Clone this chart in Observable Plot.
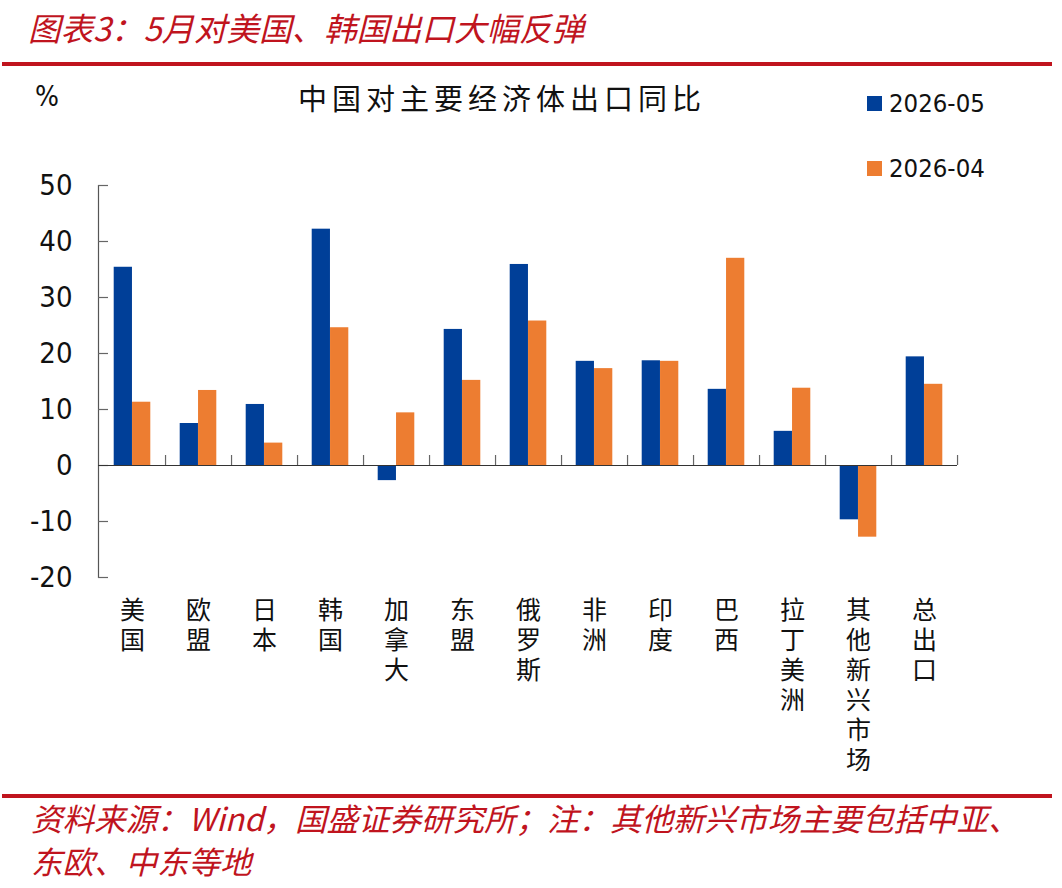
<!DOCTYPE html>
<html>
<head>
<meta charset="utf-8">
<script src="https://cdn.jsdelivr.net/npm/d3@7"></script>
<script src="https://cdn.jsdelivr.net/npm/@observablehq/plot@0.6"></script>
<style>
  body { margin: 0; background: #fff; }
  #page { position: relative; width: 1062px; height: 888px; overflow: hidden; background: #fff;
          font-family: "Noto Sans CJK SC", sans-serif; }
  .red { color: #C0141E; font-style: italic; }
  #title { position: absolute; left: 28px; top: 5px; font-size: 32.5px; line-height: 44px; white-space: nowrap; }
  .bar { position: absolute; left: 2px; width: 1050px; height: 4px; background: #C0141E; }
  #subtitle { position: absolute; left: 298px; top: 78px; font-size: 29px; line-height: 38px; letter-spacing: 5px;
              color: #111; white-space: nowrap; }
  #unit { position: absolute; left: 35px; top: 80px; font-size: 28px; line-height: 34px; color: #111;
          font-family: "DejaVu Sans Condensed", "DejaVu Sans", sans-serif; }
  .legend { position: absolute; left: 867px; font-size: 25.5px; line-height: 30px; color: #111;
            font-family: "DejaVu Sans Condensed", "DejaVu Sans", sans-serif; white-space: nowrap; }
  .legend i { display: inline-block; width: 15px; height: 15px; margin-right: 7px; vertical-align: 1px; }
  #chart { position: absolute; left: 0; top: 66px; }
  #source { position: absolute; left: 31px; top: 796px; font-size: 31.5px; line-height: 43px; white-space: nowrap; }
</style>
</head>
<body>
<div id="page">
  <div id="title" class="red">图表3：5月对美国、韩国出口大幅反弹</div>
  <div class="bar" style="top:62px"></div>
  <div id="subtitle">中国对主要经济体出口同比</div>
  <div id="unit">%</div>
  <div id="legend"></div>
  <div id="chart"></div>
  <div class="bar" style="top:794px"></div>
  <div id="source" class="red">资料来源：Wind，国盛证券研究所；注：其他新兴市场主要包括中亚、<br>东欧、中东等地</div>
</div>
<script>
// Economies, left to right
const categories = ["美国", "欧盟", "日本", "韩国", "加拿大", "东盟", "俄罗斯", "非洲", "印度", "巴西", "拉丁美洲", "其他新兴市场", "总出口"];
// Year-on-year export growth, %
const may2026 = [35.4, 7.5, 10.9, 42.2, -2.7, 24.3, 35.9, 18.6, 18.7, 13.6, 6.1, -9.7, 19.4];
const apr2026 = [11.3, 13.4, 4.0, 24.6, 9.4, 15.2, 25.8, 17.3, 18.6, 37.0, 13.8, -12.8, 14.5];
const seriesNames = ["2026-05", "2026-04"];
const yTicks = [-20, -10, 0, 10, 20, 30, 40, 50];

const BLUE = "#003F98";
const ORANGE = "#ED7D31";
const colors = [BLUE, ORANGE];

const rows = categories.map((c, i) => ({cat: c, may: may2026[i], apr: apr2026[i]}));

const W = 1062, H = 728;
const mL = 98, mR = 105, mT = 119, mB = 217;
const step = (W - mL - mR) / categories.length;
const half = step / 2;
const gap = step * 0.2225;

const axisFont = "'DejaVu Sans Condensed', 'DejaVu Sans', sans-serif";
const cjkFont = "'Noto Sans CJK SC', sans-serif";

const chart = Plot.plot({
  width: W,
  height: H,
  marginLeft: mL,
  marginRight: mR,
  marginTop: mT,
  marginBottom: mB,
  style: {background: "transparent", color: "#111"},
  x: {type: "band", domain: categories, padding: 0, axis: null, label: null},
  y: {domain: [-20, 50], axis: null, label: null},
  marks: [
    // paired bars within each economy's band
    Plot.barY(rows, {x: "cat", y: "may", fill: BLUE, insetLeft: gap, insetRight: half}),
    Plot.barY(rows, {x: "cat", y: "apr", fill: ORANGE, insetLeft: half, insetRight: gap}),
    // y axis line and inward ticks
    Plot.frame({anchor: "left", stroke: "#555", strokeWidth: 1.2}),
    Plot.ruleY(yTicks, {y: d => d, stroke: "#666", strokeWidth: 1.2, insetRight: W - mL - mR - 10}),
    Plot.axisY({ticks: yTicks, tickSize: 0, tickPadding: 26, fontSize: 29, fontFamily: axisFont,
                label: null, tickFormat: d => String(d)}),
    // zero baseline with upward ticks at band boundaries
    Plot.ruleY([0], {stroke: "#333", strokeWidth: 1.2}),
    Plot.ruleX(categories, {x: d => d, y1: 0, y2: 0, insetTop: -10, dx: half, stroke: "#666", strokeWidth: 1.2}),
    // vertically stacked category names
    Plot.axisX({tickSize: 0, tickPadding: 20, fontSize: 25, fontFamily: cjkFont, lineHeight: 1.2,
                label: null, tickFormat: d => Array.from(d).join("\n")})
  ]
});
document.getElementById("chart").appendChild(chart);

// legend
const legend = document.getElementById("legend");
seriesNames.forEach((name, i) => {
  const div = document.createElement("div");
  div.className = "legend";
  div.style.top = (88 + i * 65) + "px";
  div.innerHTML = `<i style="background:${colors[i]}"></i>${name}`;
  legend.appendChild(div);
});
</script>
</body>
</html>
